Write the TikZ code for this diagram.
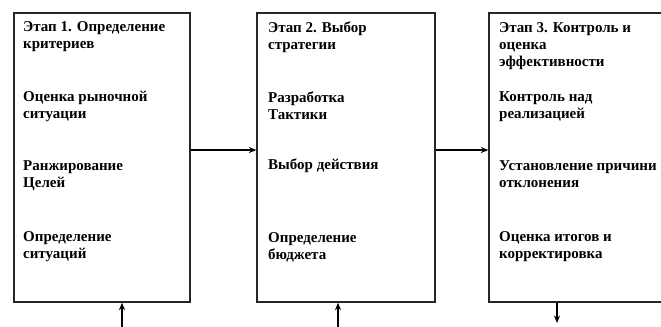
\documentclass[tikz,border=0pt]{standalone}
\usepackage{fontspec}
\setmainfont{Liberation Serif}
\newfontfamily\timesfont{Liberation Serif}
\usetikzlibrary{arrows.meta,calc}
\begin{document}
\begin{tikzpicture}[x=1bp,y=-1bp,
  stagebox/.style={draw=black!85,line width=1.3bp,fill=white},
  txt/.style={anchor=west,inner sep=0pt,align=left,font=\timesfont\bfseries\fontsize{15bp}{17bp}\selectfont},
  conn/.style={line width=1.1bp,-{Stealth[length=7.5bp,width=6bp]}}]
\useasboundingbox (0,0) rectangle (661,326);
\fill[white] (0,0) rectangle (661,326);
% boxes
\node[stagebox,minimum width=176bp,minimum height=289bp,inner sep=0pt] (b1) at (102,157.5) {};
\node[stagebox,minimum width=178bp,minimum height=289bp,inner sep=0pt] (b2) at (346,157.5) {};
\node[stagebox,minimum width=176bp,minimum height=289bp,inner sep=0pt] (b3) at (577,157.5) {};
% box 1 texts
\node[txt] (t11) at (23,37) {Этап 1. Определение\\критериев};
\node[txt] (t12) at (23,106) {Оценка рыночной\\ситуации};
\node[txt] (t13) at (23,175.5) {Ранжирование\\Целей};
\node[txt] (t14) at (23,247) {Определение\\ситуаций};
% box 2 texts
\node[txt] (t21) at (268,37) {Этап 2. Выбор\\стратегии};
\node[txt] (t22) at (268,105.5) {Разработка\\Тактики};
\node[txt] (t23) at (268,166) {Выбор действия};
\node[txt] (t24) at (268,247) {Определение\\бюджета};
% box 3 texts
\node[txt] (t31) at (499,46) {Этап 3. Контроль и\\оценка\\эффективности};
\node[txt] (t32) at (499,107) {Контроль над\\реализацией};
\node[txt] (t33) at (499,174.5) {Установление причини\\отклонения};
\node[txt] (t34) at (499,247) {Оценка итогов и\\корректировка};
% connectors
\draw[conn] ([yshift=7.5bp]b1.east) -- ([yshift=7.5bp]b2.west);
\draw[conn] ([yshift=7.5bp]b2.east) -- ([yshift=7.5bp]b3.west);
\coordinate (in1) at (122,327);
\coordinate (in2) at (338,327);
\coordinate (out3) at (557,323);
\draw[conn] (in1) -- (in1 |- b1.south);
\draw[conn] (in2) -- (in2 |- b2.south);
\draw[conn] (out3 |- b3.south) -- (out3);
\end{tikzpicture}
\end{document}
